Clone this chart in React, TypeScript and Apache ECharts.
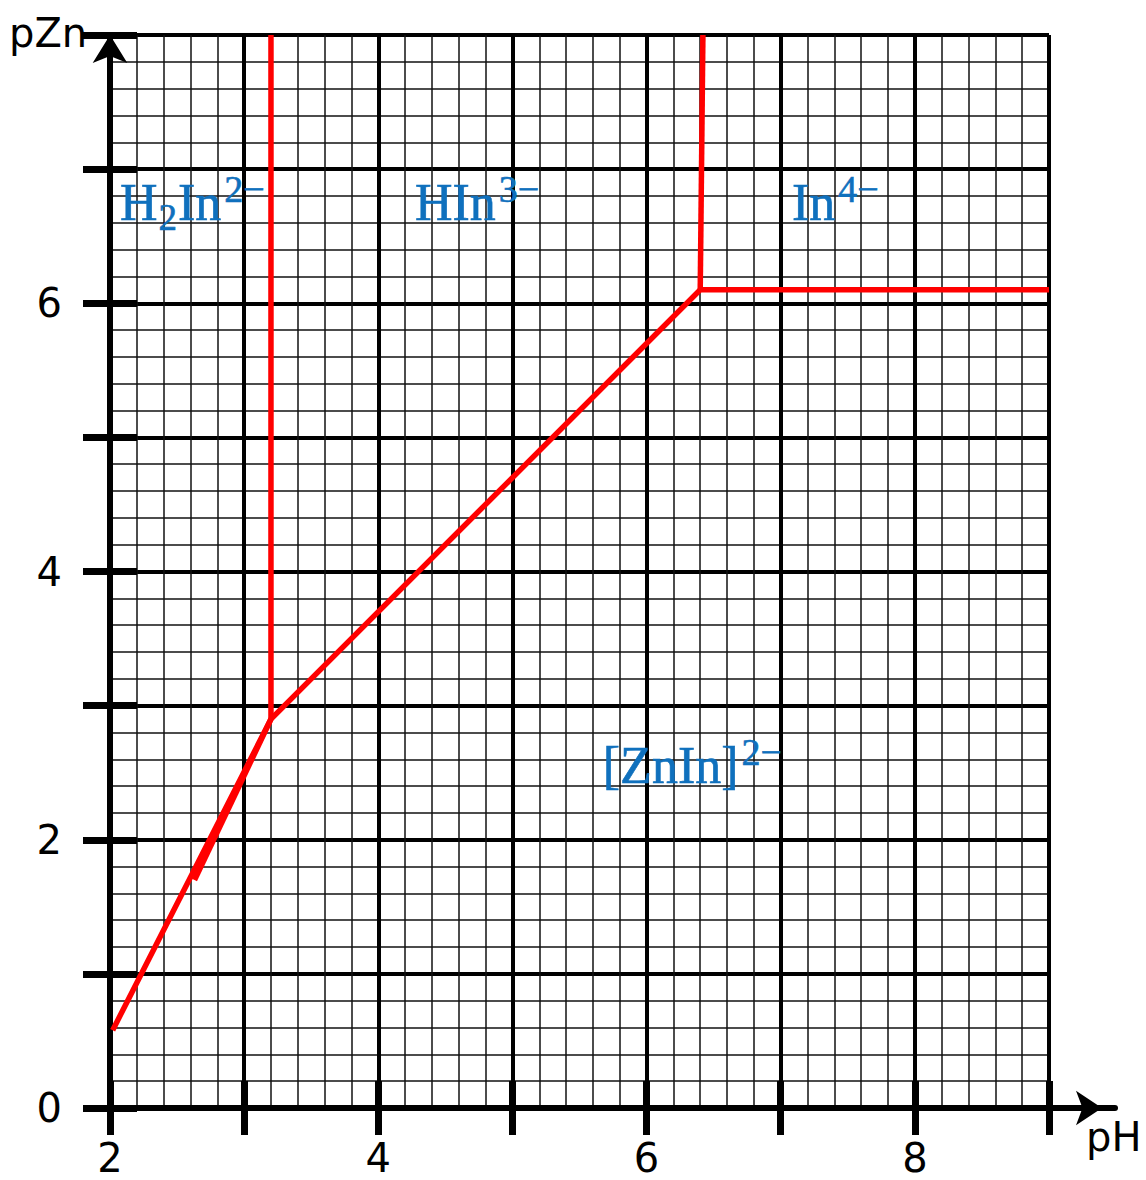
import React, { useEffect, useRef } from 'react';
import * as echarts from 'echarts';

// Axis ranges and tick labels
const xMin = 2;
const xMax = 9;
const yMin = 0;
const yMax = 8;
const xTickLabels = [2, 4, 6, 8];
const yTickLabels = [0, 2, 4, 6];

// Red phase-boundary lines (pH, pZn)
const boundaryMain = [[2.02, 0.58], [3.2, 2.9], [6.4, 6.1], [9, 6.1]];
const boundaryLowerOverlap = [[2.63, 1.7], [3.2, 2.9]];
const boundaryLeftVertical = [[3.2, 2.9], [3.2, 8]];
const boundaryRightVertical = [[6.4, 6.1], [6.42, 8]];

// Species labels: [pH, pZn] anchor and rich text
const speciesPositions = [[2.07, 6.75], [4.27, 6.75], [7.08, 6.75], [5.67, 2.55]];
const speciesTexts = [
  '{m|H}{sb|2}{m|In}{sp|2−}',
  '{m|HIn}{sp|3−}',
  '{m|In}{sp|4−}',
  '{m|[ZnIn]}{sp|2−}',
];

const BLUE = '#0f70bd';
const RED = '#ff0000';

const redLine = (data: number[][]) => ({
  type: 'line',
  xAxisIndex: 0,
  yAxisIndex: 0,
  data,
  showSymbol: false,
  symbol: 'none',
  silent: true,
  clip: false,
  lineStyle: { color: RED, width: 5.5, cap: 'butt', join: 'miter' },
  z: 5,
});

const textCommon = { fontFamily: 'Liberation Serif', color: BLUE, textBorderColor: BLUE, textBorderWidth: 0.6 };

export default function App() {
  const ref = useRef<HTMLDivElement>(null);
  useEffect(() => {
    const chart = echarts.init(ref.current!, null, { renderer: 'svg' });
    const tickFont = { fontFamily: 'DejaVu Sans', fontSize: 40, color: '#000', lineHeight: 40 };
    const option: any = {
      animation: false,
      backgroundColor: '#fff',
      grid: [
        { left: 110, top: 35, width: 939, height: 1073 },
        { left: 110, top: 35, width: 1005, height: 1073 },
      ],
      xAxis: [
        {
          type: 'value', gridIndex: 0, min: xMin, max: xMax, interval: 1, position: 'bottom',
          axisLine: { show: false, onZero: false },
          axisTick: { show: true, inside: false, length: 27, lineStyle: { color: '#000', width: 7 } },
          axisLabel: {
            ...tickFont, margin: 30,
            formatter: (v: number) => (xTickLabels.includes(v) ? String(v) : ''),
          },
          splitLine: { show: true, lineStyle: { color: '#000', width: 4 } },
          minorTick: { show: false, splitNumber: 5 },
          minorSplitLine: { show: true, lineStyle: { color: '#111', width: 1.5 } },
        },
        {
          type: 'value', gridIndex: 0, min: xMin, max: xMax, interval: 1, position: 'bottom',
          axisLine: { show: false, onZero: false },
          axisTick: { show: true, inside: true, length: 27, lineStyle: { color: '#000', width: 7 } },
          axisLabel: { show: false },
          splitLine: { show: false },
        },
        {
          type: 'value', gridIndex: 1, min: 0, max: 1, position: 'bottom',
          axisLine: {
            show: true, onZero: false,
            symbol: ['none', 'arrow'], symbolSize: [26, 26], symbolOffset: [0, -13],
            lineStyle: { color: '#000', width: 6 },
          },
          axisTick: { show: false },
          axisLabel: { show: false },
          splitLine: { show: false },
        },
      ],
      yAxis: [
        {
          type: 'value', gridIndex: 0, min: yMin, max: yMax, interval: 1, position: 'left',
          axisLine: {
            show: true, onZero: false,
            symbol: ['none', 'arrow'], symbolSize: [26, 28], symbolOffset: [0, 0],
            lineStyle: { color: '#000', width: 6 },
          },
          axisTick: { show: true, inside: false, length: 27, lineStyle: { color: '#000', width: 7 } },
          axisLabel: {
            ...tickFont, margin: 48,
            formatter: (v: number) => (yTickLabels.includes(v) ? String(v) : ''),
          },
          splitLine: { show: true, lineStyle: { color: '#000', width: 4 } },
          minorTick: { show: false, splitNumber: 5 },
          minorSplitLine: { show: true, lineStyle: { color: '#111', width: 1.5 } },
        },
        {
          type: 'value', gridIndex: 0, min: yMin, max: yMax, interval: 1, position: 'left',
          axisLine: { show: false, onZero: false },
          axisTick: { show: true, inside: true, length: 27, lineStyle: { color: '#000', width: 7 } },
          axisLabel: { show: false },
          splitLine: { show: false },
        },
        { type: 'value', gridIndex: 1, min: 0, max: 1, show: false },
      ],
      graphic: [
        { type: 'text', left: 9, top: 13, style: { text: 'pZn', font: '40px "DejaVu Sans"', fill: '#000' } },
        { type: 'text', left: 1086, top: 1117, style: { text: 'pH', font: '40px "DejaVu Sans"', fill: '#000' } },
      ],
      series: [
        redLine(boundaryMain),
        redLine(boundaryLowerOverlap),
        redLine(boundaryLeftVertical),
        redLine(boundaryRightVertical),
        {
          type: 'scatter',
          xAxisIndex: 0,
          yAxisIndex: 0,
          symbolSize: 1,
          itemStyle: { color: 'rgba(0,0,0,0)', opacity: 1 },
          silent: true,
          z: 6,
          data: speciesPositions.map((p, i) => ({
            value: p,
            label: { formatter: speciesTexts[i] },
          })),
          label: {
            show: true,
            position: 'right',
            distance: 0,
            opacity: 1,
            rich: {
              m: { ...textCommon, fontSize: 52, lineHeight: 66, verticalAlign: 'middle' },
              sp: { ...textCommon, fontSize: 38, lineHeight: 42, verticalAlign: 'top', padding: [0, 0, 0, 3] },
              sb: { ...textCommon, fontSize: 37, lineHeight: 37, verticalAlign: 'bottom', padding: [0, 1, 0, 1] },
            },
          },
        },
      ],
    };
    chart.setOption(option);
    return () => chart.dispose();
  }, []);
  return <div ref={ref} style={{ position: 'absolute', left: 0, top: 0, width: 1146, height: 1180 }} />;
}
